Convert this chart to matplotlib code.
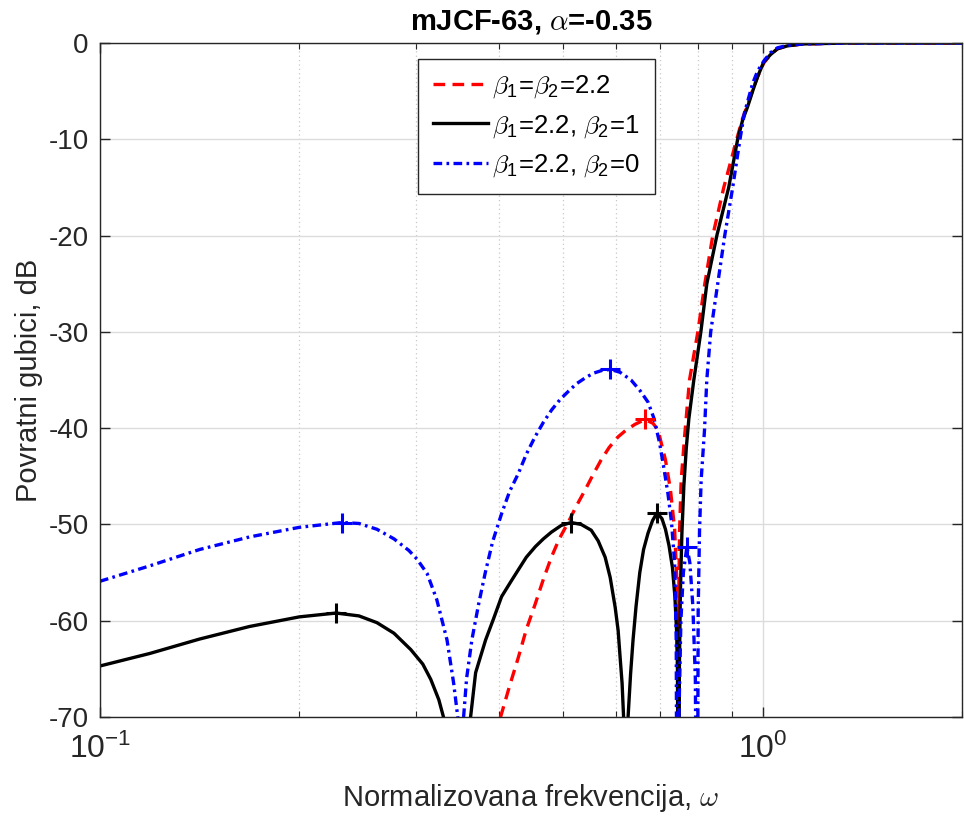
import matplotlib
matplotlib.use("Agg")
import matplotlib.pyplot as plt
from matplotlib.ticker import LogLocator, NullFormatter, FixedLocator

plt.rcParams['font.family'] = ['Liberation Sans', 'DejaVu Sans']
plt.rcParams['mathtext.fontset'] = 'cm'
plt.rcParams['axes.unicode_minus'] = False

# beta1 = beta2 = 2.2 (red, dashed)
red_w = [0.398, 0.4023, 0.4150, 0.4280, 0.4400, 0.4541, 0.4668, 0.4800, 0.4933, 0.5088,
         0.5234, 0.5399, 0.5551, 0.5706, 0.5868, 0.6053, 0.6223, 0.6419, 0.6647, 0.6833,
         0.6953, 0.7135, 0.7260, 0.7366, 0.7407, 0.7433, 0.7458, 0.7477, 0.7494, 0.7536,
         0.7625, 0.7757, 0.7985, 0.8181, 0.841, 0.8738, 0.914, 0.933, 0.9494, 0.966,
         0.9828, 1.0035, 1.028, 1.053, 1.090, 1.1486, 1.342, 2.0]
red_db = [-72, -70, -66.8, -63.8, -60.9, -58.2, -55.7, -53.4, -51.5, -49.8,
          -48.1, -46.4, -44.8, -43.3, -42.0, -40.9, -40.2, -39.6, -39.1, -39.5,
          -40.2, -43.3, -46.4, -50.5, -54.4, -56.5, -90, -56, -50.6, -45.4,
          -40.9, -35, -30, -25, -20, -15, -10, -7.8, -6.4, -4.9,
          -3.5, -2.1, -1.2, -0.6, -0.3, -0.1, 0, 0]

# beta1 = 2.2, beta2 = 1 (black, solid)
blk_w = [0.1, 0.1189, 0.1414, 0.1681, 0.1999, 0.2272, 0.2460, 0.2618, 0.2778, 0.2945,
         0.3070, 0.3157, 0.3246, 0.3314, 0.347, 0.3625, 0.3689, 0.3819, 0.3926, 0.4037,
         0.4164, 0.4280, 0.4400, 0.4541, 0.4668, 0.4800, 0.4968, 0.5141, 0.5323, 0.5513,
         0.5647, 0.5786, 0.5888, 0.5991, 0.6053, 0.6095, 0.6137, 0.6169, 0.6215, 0.6266,
         0.6321, 0.6375, 0.6442, 0.6526, 0.6613, 0.6716, 0.6822, 0.6929, 0.7049, 0.7135,
         0.7224, 0.7311, 0.7373, 0.7416, 0.7442, 0.7463, 0.7489, 0.7515, 0.7554, 0.7606,
         0.7672, 0.7740, 0.7874, 0.8069, 0.8238, 0.853, 0.8889, 0.917, 0.933, 0.9494,
         0.966, 0.9828, 1.0035, 1.028, 1.053, 1.090, 1.1486, 1.342, 2.0]
blk_db = [-64.7, -63.4, -61.9, -60.6, -59.6, -59.2, -59.5, -60.2, -61.3, -63.0,
          -64.5, -66.1, -68.2, -70.5, -95, -70, -65.4, -62, -59.8, -57.5,
          -56.0, -54.7, -53.4, -52.3, -51.5, -50.8, -50.1, -49.8, -50.0, -50.6,
          -51.7, -53.4, -55.5, -58.6, -61, -63.8, -66.5, -70, -95, -70,
          -65.5, -62, -58.5, -55, -52.6, -50.9, -49.6, -48.8, -49.4, -50.5,
          -52.2, -54.5, -57.5, -61, -65, -95, -65, -57, -51, -46,
          -42, -39, -35, -30, -25, -20, -15, -10, -8.0, -6.6,
          -5.0, -3.5, -2.0, -1.2, -0.6, -0.3, -0.1, 0, 0]

# beta1 = 2.2, beta2 = 0 (blue, dash-dot)
blu_w = [0.1, 0.1189, 0.1414, 0.1681, 0.1999, 0.2319, 0.2460, 0.2618, 0.2778, 0.2925,
         0.3009, 0.3117, 0.3223, 0.334, 0.3418, 0.3467, 0.3494, 0.3538, 0.3575, 0.3641,
         0.3727, 0.3815, 0.3913, 0.4041, 0.4150, 0.4280, 0.4400, 0.4535, 0.4668, 0.4805,
         0.4951, 0.5088, 0.5234, 0.5393, 0.5551, 0.5726, 0.5894, 0.6095, 0.6331, 0.6531,
         0.6716, 0.6857, 0.6989, 0.7098, 0.7197, 0.7287, 0.7366, 0.7407, 0.7433, 0.7477,
         0.7528, 0.7593, 0.7687, 0.7767, 0.7848, 0.7916, 0.7967, 0.7994, 0.8032, 0.8077,
         0.8172, 0.8237, 0.835, 0.8556, 0.8767, 0.9013, 0.9244, 0.9386, 0.9526, 0.966,
         0.9828, 1.0059, 1.028, 1.053, 1.090, 1.1486, 1.342, 2.0]
blu_db = [-55.9, -54.3, -52.6, -51.3, -50.3, -49.8, -49.9, -50.5, -51.5, -52.7,
          -53.6, -55.1, -57.8, -62.0, -66.5, -70, -95, -70, -66, -62,
          -58.3, -55, -51.8, -48.8, -46.6, -44.7, -42.7, -40.9, -39.4, -38.1,
          -37.0, -36.2, -35.4, -34.8, -34.3, -34.0, -33.9, -34.2, -35.0, -36.1,
          -37.3, -39.0, -41.5, -44.2, -46.8, -49.8, -54, -62, -95, -70,
          -60, -55, -52.3, -54, -58.5, -66, -95, -59, -50.6, -45.4,
          -40.2, -35, -30, -25, -20, -15, -10, -7.3, -5.7, -4.2,
          -2.9, -1.8, -1.0, -0.5, -0.25, -0.1, 0, 0]

# peak markers
red_pk_w = [0.6647]
red_pk_db = [-39.1]
blk_pk_w = [0.2272, 0.5141, 0.6929]
blk_pk_db = [-59.2, -49.8, -48.8]
blu_pk_w = [0.2319, 0.5894, 0.7687]
blu_pk_db = [-49.8, -33.9, -52.3]

fig = plt.figure(figsize=(9.64, 8.16), dpi=100)
ax = fig.add_axes([0.1037, 0.1213, 0.8943, 0.826])

lw = 2.4
ax.plot(red_w, red_db, color='#ff0000', lw=lw, dashes=(3.5, 2.2),
        label=r'$\beta_{\mathdefault{1}}$=$\beta_{\mathdefault{2}}$=2.2')
ax.plot(blk_w, blk_db, color='black', lw=lw,
        label=r'$\beta_{\mathdefault{1}}$=2.2, $\beta_{\mathdefault{2}}$=1')
ax.plot(blu_w, blu_db, color='#0000ff', lw=lw, dashes=(2.6, 1.3, 0.8, 1.3),
        label=r'$\beta_{\mathdefault{1}}$=2.2, $\beta_{\mathdefault{2}}$=0')
ax.plot(red_pk_w, red_pk_db, '+', color='#ff0000', ms=14, mew=2.2)
ax.plot(blk_pk_w, blk_pk_db, '+', color='black', ms=14, mew=2.2)
ax.plot(blu_pk_w, blu_pk_db, '+', color='#0000ff', ms=14, mew=2.2)

ax.set_xscale('log')
ax.set_xlim(0.1, 2)
ax.set_ylim(-70, 0)
ax.set_yticks(range(-70, 1, 10))
ax.xaxis.set_major_locator(FixedLocator([0.1, 1.0]))
ax.xaxis.set_minor_locator(LogLocator(base=10, subs=range(2, 10)))
ax.xaxis.set_minor_formatter(NullFormatter())

ax.grid(True, which='major', color='#dcdcdc', lw=1.0, ls='-')
ax.grid(True, which='minor', axis='x', color='#c8c8c8', lw=0.9, ls=(0, (1, 2.5)))
ax.set_axisbelow(True)

ax.tick_params(which='both', direction='in', top=True, right=True, colors='#262626')
ax.tick_params(which='major', length=7, width=1.0)
ax.tick_params(which='minor', length=4, width=0.8)
ax.tick_params(axis='x', pad=12, labelsize=23)
ax.tick_params(axis='y', pad=8, labelsize=20)
for s in ax.spines.values():
    s.set_color('#262626')
    s.set_linewidth(1.0)

ax.set_xlabel(r'Normalizovana frekvencija, $\omega$', fontsize=21, color='#262626', labelpad=12)
ax.set_ylabel('Povratni gubici, dB', fontsize=21, color='#262626', labelpad=4)
ax.set_title(r'mJCF-63, $\alpha$=-0.35', fontsize=21, fontweight='bold', pad=10)

leg = ax.legend(loc='upper left', bbox_to_anchor=(0.369, 0.977), fontsize=18.5,
                fancybox=False, framealpha=1, edgecolor='#262626',
                handlelength=2.15, handletextpad=0.15, borderpad=0.58,
                labelspacing=0.5, borderaxespad=0)
leg.get_frame().set_linewidth(1.0)

fig.savefig('out.png', dpi=100)
